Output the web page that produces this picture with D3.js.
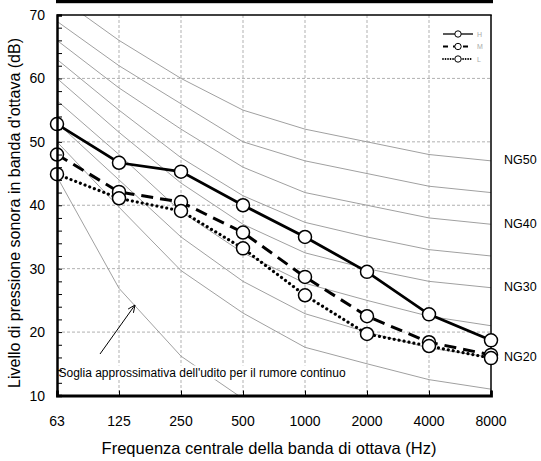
<!DOCTYPE html>
<html>
<head>
<meta charset="utf-8">
<script src="https://cdn.jsdelivr.net/npm/d3@7/dist/d3.min.js"></script>
<style>
  html, body { margin: 0; padding: 0; background: #fff; }
  svg { display: block; }
  text { font-family: "Liberation Sans", Arial, Helvetica, sans-serif; }
</style>
</head>
<body>
<svg id="chart" width="541" height="461"></svg>
<script>
// ---------- data ----------
const categories = ["63", "125", "250", "500", "1000", "2000", "4000", "8000"];
const yTicks = [10, 20, 30, 40, 50, 60, 70];

const seriesH = [52.8, 46.7, 45.3, 40.0, 35.0, 29.5, 22.8, 18.7];
const seriesM = [48.0, 42.1, 40.5, 35.7, 28.7, 22.5, 18.4, 16.4];
const seriesL = [44.9, 41.1, 39.1, 33.2, 25.8, 19.7, 17.8, 15.9];

const ng15 = [50, 39.7, 29.7, 23, 17.6, 15, 12.5, 11];
const ng20 = [53, 44, 35, 28, 22.9, 20, 17.5, 16];
const ng25 = [56.5, 48, 39, 32.5, 27.7, 25, 22.5, 21];
const ng30 = [60, 51.5, 43.5, 37, 32.5, 30, 28, 27];
const ng35 = [63, 55, 47.5, 41.5, 37.3, 35, 33, 32];
const ng40 = [66, 58.5, 52, 46, 42, 40, 38, 37];
const ng45 = [69, 62, 56, 50, 47, 45, 43, 42];
const ng50 = [73, 66, 60, 55, 52, 50, 48, 47];
const ngCurves = [ng15, ng20, ng25, ng30, ng35, ng40, ng45, ng50];

const thresholdCats = ["63", "125", "250", "500"];
const threshold = [44.5, 26.9, 16.2, 9.5];

const ngLabels = ["NG50", "NG40", "NG30", "NG20"];
const ngLabelCurves = [ng50, ng40, ng30, ng20];

const legendNames = ["H", "M", "L"];
const xTitle = "Frequenza centrale della banda di ottava (Hz)";
const yTitle = "Livello di pressione sonora in banda d'ottava (dB)";
const annotation = "Soglia approssimativa dell'udito per il rumore continuo";

// ---------- layout ----------
const svg = d3.select("#chart");
const L = 57, R = 491, T = 15, B = 395.5;

const x = d3.scalePoint().domain(categories).range([L, R]).padding(0);
const y = d3.scaleLinear().domain([10, 70]).range([B, T]);

svg.append("rect").attr("width", 541).attr("height", 461).attr("fill", "#fff");

// top black bar
svg.append("rect").attr("x", L - 1).attr("y", 0).attr("width", R - L + 3).attr("height", 3.2).attr("fill", "#000");

// clip
svg.append("defs").append("clipPath").attr("id", "plotclip")
  .append("rect").attr("x", L).attr("y", T).attr("width", R - L).attr("height", B - T);

// gridlines
const grid = svg.append("g").attr("stroke", "#a8a8a8").attr("stroke-width", 0.9).attr("stroke-dasharray", "3,2");
grid.selectAll("line.h").data(yTicks.filter(v => v > 10 && v < 70)).join("line")
  .attr("x1", L).attr("x2", R).attr("y1", d => y(d)).attr("y2", d => y(d));
grid.selectAll("line.v").data(categories.slice(1, -1)).join("line")
  .attr("y1", T).attr("y2", B).attr("x1", d => x(d)).attr("x2", d => x(d));

// NG curves
const plot = svg.append("g").attr("clip-path", "url(#plotclip)");
const lineGen = d3.line().x((d, i) => x(categories[i])).y(d => y(d));
plot.selectAll("path.ng").data(ngCurves).join("path")
  .attr("fill", "none").attr("stroke", "#a0a0a0").attr("stroke-width", 1)
  .attr("d", d => lineGen(d));

// threshold curve
const thrLine = d3.line().x((d, i) => x(thresholdCats[i])).y(d => y(d));
plot.append("path").datum(threshold)
  .attr("fill", "none").attr("stroke", "#a0a0a0").attr("stroke-width", 1)
  .attr("d", thrLine);

// annotation text with white background
const annG = svg.append("g");
const annText = annG.append("text")
  .attr("x", L + 1.5).attr("y", 376.5)
  .attr("font-size", 12).attr("fill", "#000")
  .text(annotation);
const bb = annText.node().getBBox();
annG.insert("rect", "text")
  .attr("x", L + 1).attr("y", bb.y).attr("width", bb.width + 2).attr("height", bb.height)
  .attr("fill", "#fff");

// arrow
svg.append("line")
  .attr("x1", 100).attr("y1", 354).attr("x2", 135).attr("y2", 305)
  .attr("stroke", "#000").attr("stroke-width", 1);
(function () {
  const ang = Math.atan2(305 - 354, 135 - 100);
  const len = 8, spread = 0.42;
  const p1 = [135 - len * Math.cos(ang - spread), 305 - len * Math.sin(ang - spread)];
  const p2 = [135 - len * Math.cos(ang + spread), 305 - len * Math.sin(ang + spread)];
  svg.append("path")
    .attr("d", `M${p1[0]},${p1[1]} L135,305 L${p2[0]},${p2[1]}`)
    .attr("fill", "none").attr("stroke", "#000").attr("stroke-width", 1);
})();

// frame: top and right
svg.append("line").attr("x1", L).attr("x2", R + 0.75).attr("y1", T).attr("y2", T).attr("stroke", "#000").attr("stroke-width", 1.5);
svg.append("line").attr("x1", R).attr("x2", R).attr("y1", T).attr("y2", B).attr("stroke", "#000").attr("stroke-width", 1.5);

// data series
const series = [
  { vals: seriesH, dash: null, width: 2.8, cap: "butt" },
  { vals: seriesM, dash: "12,7", width: 3, cap: "butt" },
  { vals: seriesL, dash: "0.01,5", width: 3.2, cap: "round" }
];
const dataG = svg.append("g");
series.forEach(s => {
  dataG.append("path").datum(s.vals)
    .attr("fill", "none").attr("stroke", "#000")
    .attr("stroke-width", s.width)
    .attr("stroke-linecap", s.cap)
    .attr("stroke-dasharray", s.dash)
    .attr("d", lineGen);
});
series.forEach(s => {
  dataG.selectAll(null).data(s.vals).join("circle")
    .attr("cx", (d, i) => x(categories[i])).attr("cy", d => y(d))
    .attr("r", 6.5).attr("fill", "#fff").attr("stroke", "#000").attr("stroke-width", 1.5);
});

// axes
const yAxis = d3.axisLeft(y).tickValues(d3.range(10, 71, 2)).tickSize(-5).tickFormat("");
const yg = svg.append("g").attr("transform", `translate(${L},0)`).call(yAxis);
yg.select(".domain").attr("stroke", "#000").attr("stroke-width", 2.5);
yg.selectAll(".tick line").attr("stroke", "#000").attr("stroke-width", 1);

svg.selectAll("text.ylab").data(yTicks).join("text")
  .attr("class", "ylab")
  .attr("x", 45).attr("y", d => y(d)).attr("dy", "0.36em")
  .attr("text-anchor", "end").attr("font-size", 14).attr("fill", "#000")
  .text(d => d);

const xAxis = d3.axisBottom(x).tickSize(-5).tickFormat("");
const xg = svg.append("g").attr("transform", `translate(0,${B})`).call(xAxis);
xg.select(".domain").attr("stroke", "#000").attr("stroke-width", 2.8);
xg.selectAll(".tick line").attr("stroke", "#000").attr("stroke-width", 1);

svg.selectAll("text.xlab").data(categories).join("text")
  .attr("class", "xlab")
  .attr("x", d => x(d)).attr("y", 421).attr("dy", "0.36em")
  .attr("text-anchor", "middle").attr("font-size", 14).attr("fill", "#000")
  .text(d => d);

// titles
svg.append("text").attr("x", 269).attr("y", 448).attr("dy", "0.36em")
  .attr("text-anchor", "middle").attr("font-size", 16.5).attr("fill", "#000").text(xTitle);
svg.append("text").attr("transform", `translate(14,213) rotate(-90)`)
  .attr("dy", "0.36em")
  .attr("text-anchor", "middle").attr("font-size", 16).attr("fill", "#000").text(yTitle);

// NG labels
svg.selectAll("text.ng").data(ngLabels).join("text")
  .attr("class", "ng")
  .attr("x", 504).attr("y", (d, i) => y(ngLabelCurves[i][7]) - 1).attr("dy", "0.36em")
  .attr("font-size", 12.5).attr("fill", "#000")
  .text(d => d);

// legend
const legG = svg.append("g");
legendNames.forEach((name, i) => {
  const ly = 34 + i * 12.5;
  const s = series[i];
  legG.append("line").attr("x1", 443).attr("x2", 473).attr("y1", ly).attr("y2", ly)
    .attr("stroke", "#000").attr("stroke-width", i === 0 ? 1.3 : 1.8)
    .attr("stroke-linecap", s.cap)
    .attr("stroke-dasharray", i === 0 ? null : (i === 1 ? "5,5" : "0.01,2.5"));
  legG.append("circle").attr("cx", 458).attr("cy", ly).attr("r", 3.2)
    .attr("fill", "#fff").attr("stroke", "#000").attr("stroke-width", 1);
  legG.append("text").attr("x", 477).attr("y", ly).attr("dy", "0.36em")
    .attr("font-size", 7).attr("fill", "#aaa").text(name);
});
</script>
</body>
</html>
